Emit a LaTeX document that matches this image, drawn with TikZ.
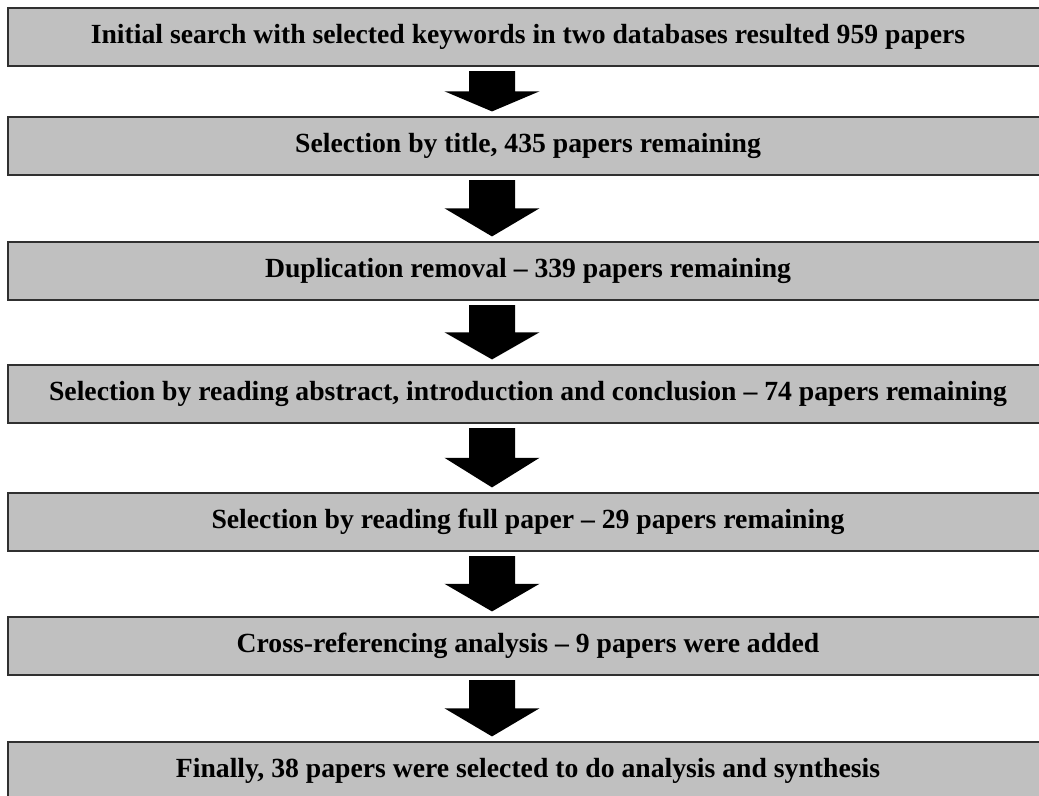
\documentclass[tikz,border=0pt]{standalone}
\usepackage{fontspec}
\setmainfont{Liberation Serif}
\usepackage{tikz}
\usetikzlibrary{calc}

\definecolor{boxgray}{HTML}{C0C0C0}
\definecolor{boxline}{HTML}{303030}

\begin{document}
\begin{tikzpicture}[
  every node/.style={font=\fontsize{19.7}{22}\selectfont\bfseries},
  stagebox/.style={draw=boxline, fill=boxgray, line width=1.1pt,
               minimum width=26cm, minimum height=1.45cm,
               inner sep=0pt, align=center},
  blockarrow/.style={fill=black}
]
\useasboundingbox (0,0) rectangle (25.975,-19.9);

% ---- Stages (top to bottom) ----
\node[stagebox] (search) at (13.2, -0.925)
  {Initial search with selected keywords in two databases resulted 959 papers};
\node[stagebox] (title) at (13.2, -3.65)
  {Selection by title, 435 papers remaining};
\node[stagebox] (dupl) at (13.2, -6.775)
  {Duplication removal -- 339 papers remaining};
\node[stagebox] (abstr) at (13.2, -9.85)
  {Selection by reading abstract, introduction and conclusion -- 74 papers remaining};
\node[stagebox] (full) at (13.2, -13.05)
  {Selection by reading full paper -- 29 papers remaining};
\node[stagebox] (cross) at (13.2, -16.15)
  {Cross-referencing analysis -- 9 papers were added};
\node[stagebox] (final) at (13.2, -19.275)
  {Finally, 38 papers were selected to do analysis and synthesis};

% ---- Block arrows between stages ----
\foreach \a/\b in {search/title, title/dupl, dupl/abstr, abstr/full,
                   full/cross, cross/final}
  \fill[blockarrow] let \p1 = (\a.south), \p2 = (\b.north),
        \n1 = {\y1 - 0.11cm}, \n2 = {\y2 + 0.12cm}, \n3 = {(\n1 + \n2)/2}
    in (11.725cm, \n1) -- (12.875cm, \n1) -- (12.875cm, \n3)
       -- (13.488cm, \n3) -- (12.3cm, \n2) -- (11.112cm, \n3)
       -- (11.725cm, \n3) -- cycle;

\end{tikzpicture}
\end{document}
